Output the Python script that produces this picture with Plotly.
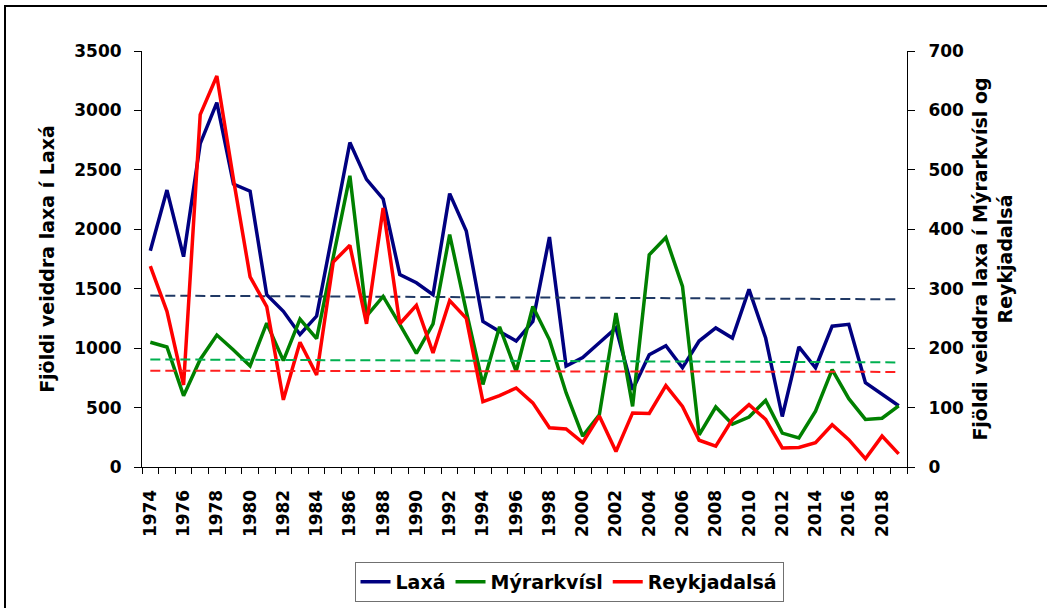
import plotly.graph_objects as go

years = list(range(1974, 2020))
laxa = [1820, 2330, 1770, 2720, 3065, 2380, 2320, 1450, 1310, 1115,
        1270, 2000, 2730, 2420, 2255, 1620, 1550, 1450, 2300, 1985,
        1225, 1140, 1060, 1225, 1935, 850, 920, 1045, 1170, 650,
        945, 1020, 835, 1060, 1170, 1085, 1495, 1085, 425, 1010,
        835, 1185, 1200, 710, 610, 515]
myrarkvisl = [210, 202, 120, 181, 222, 197, 170, 242, 179, 249,
              216, 350, 490, 254, 287, 240, 191, 241, 391, 262,
              139, 236, 161, 270, 214, 125, 52, 88, 259, 102,
              357, 386, 304, 54, 101, 72, 84, 112, 57, 49,
              94, 164, 115, 80, 82, 103]
reykjadalsa = [338, 262, 138, 593, 658, 484, 320, 270, 113, 210,
               155, 345, 373, 241, 436, 241, 272, 192, 280, 250,
               110, 120, 133, 108, 66, 64, 41, 86, 26, 91,
               90, 137, 102, 45, 35, 80, 105, 80, 32, 33,
               41, 71, 46, 14, 52, 22]

trend_years = [1974, 2019]
trend_laxa = [1442, 1411]
trend_myrarkvisl = [181, 176]
trend_reykjadalsa = [162, 160]

tick_years = list(range(1974, 2019, 2))
tick_labels = [str(y) for y in tick_years]

FONT = "DejaVu Sans, Liberation Sans, Arial, sans-serif"

fig = go.Figure()
fig.add_trace(go.Scatter(x=years, y=laxa, name="Laxá", mode="lines",
                         line=dict(color="#000080", width=3.5)))
fig.add_trace(go.Scatter(x=trend_years, y=trend_laxa, mode="lines", showlegend=False,
                         line=dict(color="#1F3864", width=2, dash="10px,5px"), hoverinfo="skip"))
fig.add_trace(go.Scatter(x=years, y=myrarkvisl, name="Mýrarkvísl", mode="lines", yaxis="y2",
                         line=dict(color="#008000", width=3.5)))
fig.add_trace(go.Scatter(x=years, y=reykjadalsa, name="Reykjadalsá", mode="lines", yaxis="y2",
                         line=dict(color="#FF0000", width=3.5)))
fig.add_trace(go.Scatter(x=trend_years, y=trend_myrarkvisl, mode="lines", showlegend=False, yaxis="y2",
                         line=dict(color="#00B050", width=2, dash="10px,5px"), hoverinfo="skip"))
fig.add_trace(go.Scatter(x=trend_years, y=trend_reykjadalsa, mode="lines", showlegend=False, yaxis="y2",
                         line=dict(color="#FF2020", width=2, dash="10px,5px"), hoverinfo="skip"))

tickfont = dict(family=FONT, size=17, color="black", weight="bold")
titlefont = dict(family=FONT, size=19, color="black", weight="bold")

fig.update_layout(
    width=1047, height=608,
    margin=dict(l=142, r=140, t=51, b=141),
    paper_bgcolor="white", plot_bgcolor="white",
    font=dict(family=FONT, color="black"),
    showlegend=True,
    legend=dict(orientation="h", xref="container", yref="container",
                x=569 / 1047, xanchor="center", y=(608 - 582) / 608, yanchor="middle",
                bordercolor="#707070", borderwidth=1, bgcolor="white",
                font=dict(family=FONT, size=19, color="black", weight="bold"),
                traceorder="normal"),
    xaxis=dict(range=[1973.5, 2019.5], tickmode="array", tickvals=tick_years, ticktext=tick_labels,
               tickangle=-90, tickfont=tickfont, ticks="outside", ticklen=6,
               tickcolor="rgba(0,0,0,0)", ticklabelstandoff=9, automargin=False,
               showline=True, linecolor="black", linewidth=1,
               showgrid=False, zeroline=False,
               minor=dict(tickmode="linear", tick0=1973.5, dtick=1, ticks="outside",
                          ticklen=6, tickcolor="black", tickwidth=1, showgrid=False)),
    yaxis=dict(range=[0, 3500], tickmode="linear", tick0=0, dtick=500, tickfont=tickfont,
               ticks="outside", ticklen=7, tickcolor="black", ticklabelstandoff=9,
               automargin=False, showline=True, linecolor="black",
               linewidth=1, showgrid=False, zeroline=False,
               title=dict(text="Fjöldi veiddra laxa í Laxá", standoff=14, font=titlefont)),
    yaxis2=dict(range=[0, 700], tickmode="linear", tick0=0, dtick=100, tickfont=tickfont,
                overlaying="y", side="right", automargin=False,
                ticks="outside", ticklen=7, tickcolor="black", ticklabelstandoff=10,
                showline=True, linecolor="black",
                linewidth=1, showgrid=False, zeroline=False,
                title=dict(text="Fjöldi veiddra laxa í Mýrarkvísl og<br>Reykjadalsá", standoff=10,
                           font=titlefont)),
    shapes=[dict(type="rect", xref="paper", yref="paper",
                 x0=(5 - 142) / 765, x1=1.4, y0=-0.5, y1=(467 - 6) / 416,
                 line=dict(color="black", width=2), fillcolor="rgba(0,0,0,0)", layer="below")],
)

fig.write_html("out.html", config={"displayModeBar": False},
               post_script="document.body.style.margin='0';document.body.style.overflow='hidden';")
